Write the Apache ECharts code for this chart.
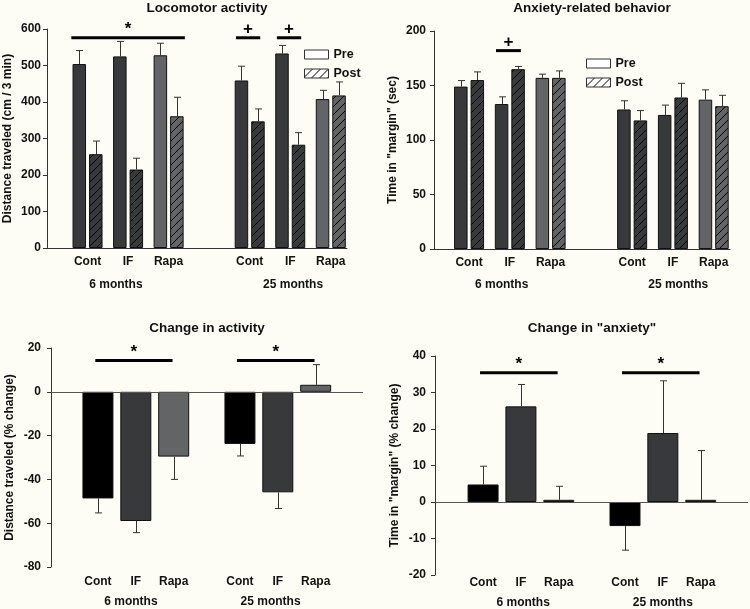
<!DOCTYPE html>
<html>
<head>
<meta charset="utf-8">
<title>Locomotor activity and anxiety</title>
<script src="https://cdn.jsdelivr.net/npm/echarts@6/dist/echarts.min.js"></script>
<style>html,body{margin:0;background:#fdfdf6;}</style>
</head>
<body>
<div id="main" style="width:750px;height:609px;"></div>
<script>
// categories
var treatments = ['Cont', 'IF', 'Rapa', 'Cont', 'IF', 'Rapa'];
var ageGroups = ['6 months', '25 months'];
// bar slots on the x value axis (an empty slot separates the age groups)
var posTop = [1, 2, 3, 5, 6, 7];
var posBottom = [1, 2, 3, 4.75, 5.75, 6.75];

// locomotor activity (cm / 3 min), mean and SEM
var locoPre = [504, 525, 528, 459, 533, 408];
var locoPreErr = [37, 41, 33, 39, 22, 24];
var locoPost = [257, 215, 361, 347, 283, 418];
var locoPostErr = [36, 31, 52, 34, 33, 37];

// time in "margin" (sec)
var anxPre = [149, 133, 157, 128, 123, 137];
var anxPreErr = [5.5, 6.6, 3.4, 8, 9, 9];
var anxPost = [155, 165, 157, 118, 139, 131];
var anxPostErr = [7.5, 2.5, 6.4, 9, 13, 10];

// % change
var actChange = [-48.7, -59, -29.6, -23.8, -45.9, 3.2];
var actChangeErr = [6.6, 5.3, 10.4, 5.5, 7.4, 9.2];
var anxChange = [4.8, 26.2, 0.6, -6.6, 18.9, 0.6];
var anxChangeErr = [5, 6, 3.7, 6.6, 14.3, 13.5];

// significance bars: [from, to, y, mark]
var sigLoco = [[0.6, 3.4, 576, '*'], [4.66, 5.26, 576, '+'], [5.67, 6.27, 576, '+']];
var sigAnx = [[1.66, 2.27, 182, '+']];
var sigAct = [[0.93, 2.97, 14.3, '*'], [4.67, 6.72, 14.3, '*']];
var sigAnxChange = [[0.92, 2.97, 35.4, '*'], [4.67, 6.72, 35.4, '*']];

var FONT = '"Liberation Sans", Arial, sans-serif';
var INK = '#111';
var DARK = '#38393b', MID = '#636466';
var topColors = [DARK, DARK, MID];
var bottomColors = ['#000', DARK, MID];
var BW_TOP = 13.5, GAP_TOP = 3, BW_BOTTOM = 31;

var myChart = echarts.init(document.getElementById('main'));

// diagonal hatch fill
var hatchCache = {};
function hatch(base) {
    if (hatchCache[base]) return hatchCache[base];
    var c = document.createElement('canvas');
    c.width = 8; c.height = 8;
    var ctx = c.getContext('2d');
    ctx.fillStyle = base;
    ctx.fillRect(0, 0, 8, 8);
    ctx.strokeStyle = '#000';
    ctx.lineWidth = 1;
    ctx.beginPath();
    ctx.moveTo(-1, 9); ctx.lineTo(9, -1);
    ctx.moveTo(-1, 1); ctx.lineTo(1, -1);
    ctx.moveTo(7, 9); ctx.lineTo(9, 7);
    ctx.stroke();
    hatchCache[base] = {image: c, repeat: 'repeat'};
    return hatchCache[base];
}

var panels = [
    {grid: {left: 47, top: 29, width: 300, height: 219}, xMin: 0, xMax: 7.4, yMin: 0, yMax: 600, yStep: 100,
     yName: 'Distance traveled (cm / 3 min)', nameGap: 33, labelMargin: 6, showX: true,
     title: 'Locomotor activity', titleX: 207, titleY: 8, catOffset: 14, groupOffset: 37, groupX: [1.7, 6.07]},
    {grid: {left: 434, top: 31, width: 296, height: 218}, xMin: 0.14, xMax: 7.4, yMin: 0, yMax: 200, yStep: 50,
     yName: 'Time in "margin" (sec)', nameGap: 35.5, labelMargin: 8, showX: true,
     title: 'Anxiety-related behavior', titleX: 592, titleY: 8, catOffset: 14, groupOffset: 36, groupX: [1.8, 6.13]},
    {grid: {left: 51, top: 348, width: 312, height: 219}, xMin: -0.24, xMax: 8, yMin: -80, yMax: 20, yStep: 20,
     yName: 'Distance traveled (% change)', nameGap: 35.5, labelMargin: 10, showX: false,
     title: 'Change in activity', titleX: 207, titleY: 328, catOffset: 15, groupOffset: 35, groupX: [1.87, 5.56]},
    {grid: {left: 435, top: 356, width: 313, height: 219}, xMin: -0.27, xMax: 8, yMin: -20, yMax: 40, yStep: 10,
     yName: 'Time in "margin" (% change)', nameGap: 34.5, labelMargin: 9, showX: false,
     title: 'Change in "anxiety"', titleX: 592, titleY: 328, catOffset: 8, groupOffset: 28, groupX: [2.06, 5.75]}
];

function barSeries(idx, name, pos, vals, colors, hatched, width, zeroLine) {
    var s = {
        type: 'bar', name: name, xAxisIndex: idx, yAxisIndex: idx,
        barWidth: width, barGap: (GAP_TOP / BW_TOP * 100) + '%',
        silent: true, z: 2,
        itemStyle: {borderColor: '#111', borderWidth: 1},
        data: vals.map(function (v, i) {
            var c = colors[i % 3];
            return {value: [pos[i], v], itemStyle: {color: hatched ? hatch(c) : c}};
        })
    };
    if (zeroLine) {
        s.markLine = {silent: true, symbol: 'none', label: {show: false},
            lineStyle: {color: '#555', width: 1, type: 'solid'}, data: [{yAxis: 0}]};
    }
    return s;
}

function errSeries(idx, pos, vals, errs, shift) {
    return {
        type: 'custom', xAxisIndex: idx, yAxisIndex: idx, silent: true, z: 5,
        data: vals.map(function (v, i) { return [pos[i], v, errs[i]]; }),
        renderItem: function (params, api) {
            var x = api.value(0), v = api.value(1), e = api.value(2);
            var sign = v < 0 ? -1 : 1;
            var a = api.coord([x, v]);
            var b = api.coord([x, v + sign * e]);
            var px = Math.round(a[0] + shift) + 0.5;
            var st = {stroke: '#333', lineWidth: 1};
            return {type: 'group', children: [
                {type: 'line', shape: {x1: px, y1: a[1], x2: px, y2: b[1]}, style: st},
                {type: 'line', shape: {x1: px - 3.5, y1: b[1], x2: px + 3.5, y2: b[1]}, style: st}
            ]};
        }
    };
}

function sigSeries(idx, marks) {
    return {
        type: 'custom', xAxisIndex: idx, yAxisIndex: idx, silent: true, z: 6,
        data: marks.map(function (m) { return [m[0], m[1], m[2]]; }),
        renderItem: function (params, api) {
            var a = api.coord([api.value(0), api.value(2)]);
            var b = api.coord([api.value(1), api.value(2)]);
            return {type: 'group', children: [
                {type: 'line', shape: {x1: a[0], y1: a[1], x2: b[0], y2: b[1]}, style: {stroke: '#000', lineWidth: 3}},
                {type: 'text', x: (a[0] + b[0]) / 2, y: a[1] - 8,
                 style: {text: marks[params.dataIndex][3], align: 'center', verticalAlign: 'middle',
                         font: 'bold 17px ' + FONT, fill: '#000'}}
            ]};
        }
    };
}

function labelSeries(idx, pos, p) {
    var items = pos.map(function (x, i) { return [x, 0, i]; });
    p.groupX.forEach(function (x, i) { items.push([x, 1, i]); });
    return {
        type: 'custom', xAxisIndex: idx, yAxisIndex: idx, silent: true, z: 6,
        data: items,
        renderItem: function (params, api) {
            var isGroup = api.value(1) === 1;
            var pt = api.coord([api.value(0), p.yMin]);
            var txt = isGroup ? ageGroups[api.value(2)] : treatments[api.value(2)];
            return {type: 'text', x: pt[0], y: pt[1] + (isGroup ? p.groupOffset : p.catOffset),
                style: {text: txt, align: 'center', verticalAlign: 'middle',
                        font: 'bold 12px ' + FONT, fill: INK}};
        }
    };
}

var series = [];
series.push(barSeries(0, 'Pre', posTop, locoPre, topColors, false, BW_TOP));
series.push(barSeries(0, 'Post', posTop, locoPost, topColors, true, BW_TOP));
series.push(errSeries(0, posTop, locoPre, locoPreErr, -(BW_TOP + GAP_TOP) / 2));
series.push(errSeries(0, posTop, locoPost, locoPostErr, (BW_TOP + GAP_TOP) / 2));
series.push(sigSeries(0, sigLoco));
series.push(labelSeries(0, posTop, panels[0]));

series.push(barSeries(1, 'Pre', posTop, anxPre, topColors, false, BW_TOP));
series.push(barSeries(1, 'Post', posTop, anxPost, topColors, true, BW_TOP));
series.push(errSeries(1, posTop, anxPre, anxPreErr, -(BW_TOP + GAP_TOP) / 2));
series.push(errSeries(1, posTop, anxPost, anxPostErr, (BW_TOP + GAP_TOP) / 2));
series.push(sigSeries(1, sigAnx));
series.push(labelSeries(1, posTop, panels[1]));

series.push(barSeries(2, 'Activity change', posBottom, actChange, bottomColors, false, BW_BOTTOM, true));
series.push(errSeries(2, posBottom, actChange, actChangeErr, 0));
series.push(sigSeries(2, sigAct));
series.push(labelSeries(2, posBottom, panels[2]));

series.push(barSeries(3, 'Anxiety change', posBottom, anxChange, bottomColors, false, BW_BOTTOM, true));
series.push(errSeries(3, posBottom, anxChange, anxChangeErr, 0));
series.push(sigSeries(3, sigAnxChange));
series.push(labelSeries(3, posBottom, panels[3]));

function legendFor(left, top) {
    return {
        left: left, top: top, orient: 'vertical', icon: 'rect', selectedMode: false,
        itemWidth: 24, itemHeight: 9, itemGap: 6, padding: 0,
        textStyle: {fontWeight: 'bold', fontSize: 12.5, color: INK, fontFamily: FONT},
        data: [
            {name: 'Pre', itemStyle: {color: '#fff', borderColor: '#333', borderWidth: 1}},
            {name: 'Post', itemStyle: {color: hatch('#fff'), borderColor: '#333', borderWidth: 1}}
        ]
    };
}

var option = {
    animation: false,
    backgroundColor: '#fdfdf6',
    textStyle: {fontFamily: FONT},
    grid: panels.map(function (p) { return p.grid; }),
    xAxis: panels.map(function (p, i) {
        return {type: 'value', gridIndex: i, min: p.xMin, max: p.xMax, show: p.showX,
            axisLine: {show: true, onZero: false, lineStyle: {color: '#333', width: 1}},
            axisTick: {show: false}, axisLabel: {show: false}, splitLine: {show: false}};
    }),
    yAxis: panels.map(function (p, i) {
        return {type: 'value', gridIndex: i, min: p.yMin, max: p.yMax, interval: p.yStep,
            name: p.yName, nameLocation: 'middle', nameGap: p.nameGap,
            nameTextStyle: {fontWeight: 'bold', fontSize: 12, color: INK, fontFamily: FONT},
            axisLine: {show: true, onZero: false, lineStyle: {color: '#333', width: 1}},
            axisTick: {show: true, length: 4, lineStyle: {color: '#333'}},
            axisLabel: {color: INK, fontWeight: 'bold', fontSize: 12, margin: p.labelMargin, fontFamily: FONT},
            splitLine: {show: false}};
    }),
    legend: [legendFor(304, 48), legendFor(586, 57)],
    graphic: panels.map(function (p) {
        return {type: 'text', x: p.titleX, y: p.titleY,
            style: {text: p.title, align: 'center', verticalAlign: 'middle',
                    font: 'bold 13.5px ' + FONT, fill: INK}};
    }),
    series: series
};

myChart.setOption(option);
</script>
</body>
</html>
